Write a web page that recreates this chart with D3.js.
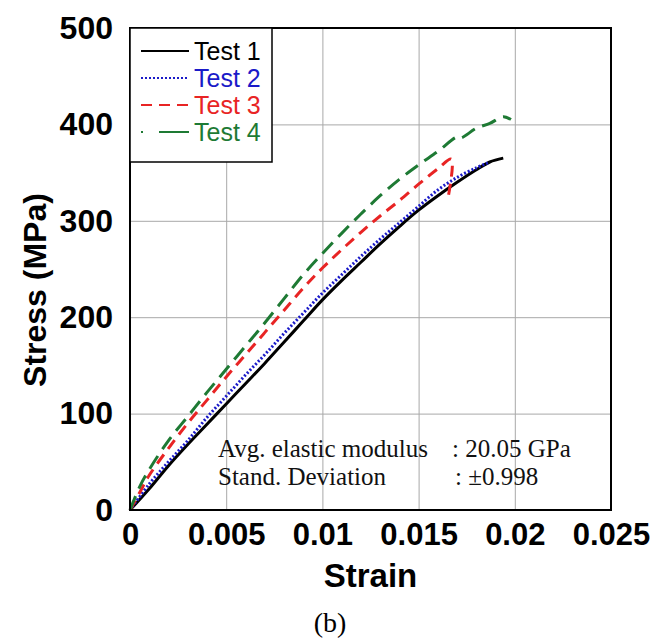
<!DOCTYPE html>
<html>
<head>
<meta charset="utf-8">
<script src="https://cdn.jsdelivr.net/npm/d3@7"></script>
<style>
	body { margin: 0; background: #fff; }
</style>
</head>
<body>
<div id="chart-area"></div>
<script>
//DATA
var xTicks = [0, 0.005, 0.01, 0.015, 0.02, 0.025];
var xTickLabels = ["0", "0.005", "0.01", "0.015", "0.02", "0.025"];
var yTicks = [0, 100, 200, 300, 400, 500];

var test1Strain = [0, 0.001, 0.002, 0.003, 0.004, 0.005, 0.006, 0.007, 0.008, 0.009, 0.010, 0.011, 0.012, 0.013, 0.014, 0.015, 0.016, 0.017, 0.018, 0.0187, 0.0194];
var test1Stress = [0, 22, 46, 68, 89, 110, 131, 152, 174, 196, 218, 238, 257, 276, 294, 311, 326, 340, 353, 361, 365];

var test2Strain = [0, 0.001, 0.002, 0.003, 0.004, 0.005, 0.006, 0.007, 0.008, 0.009, 0.010, 0.011, 0.012, 0.013, 0.014, 0.015, 0.016, 0.017, 0.018, 0.0186];
var test2Stress = [0, 27, 50, 72, 96, 118, 140, 161, 183, 204, 225, 244, 263, 281, 298, 315, 332, 345, 355, 360];

var test3Strain = [0, 0.0005, 0.001, 0.002, 0.003, 0.004, 0.005, 0.006, 0.007, 0.008, 0.009, 0.010, 0.011, 0.012, 0.013, 0.014, 0.015, 0.016, 0.0167, 0.01655];
var test3Stress = [0, 18, 36, 64, 90, 114, 138, 161, 184, 207, 230, 251, 270, 288, 305, 321, 338, 354, 364, 326];

var test4Strain = [0, 0.0005, 0.001, 0.002, 0.003, 0.004, 0.005, 0.006, 0.007, 0.008, 0.009, 0.010, 0.011, 0.012, 0.013, 0.014, 0.015, 0.016, 0.017, 0.0172, 0.018, 0.0187, 0.0194, 0.0198];
var test4Stress = [0, 24, 42, 72, 97, 122, 146, 170, 194, 219, 244, 266, 287, 307, 326, 343, 358, 372, 387, 386, 396, 401, 408, 405];

var seriesNames = ["Test 1", "Test 2", "Test 3", "Test 4"];
var seriesColors = ["#000000", "#1a1ac8", "#e82424", "#1e7a34"];
var seriesDash = ["none", "2,2", "11,7", "15,8"];
var legendDash = ["none", "2,2", "11,7", "2,16,30"];

var series = [
	{ strain: test1Strain, stress: test1Stress },
	{ strain: test2Strain, stress: test2Stress },
	{ strain: test3Strain, stress: test3Stress },
	{ strain: test4Strain, stress: test4Stress }
].map(function (s, i) {
	return {
		name: seriesNames[i],
		color: seriesColors[i],
		dash: seriesDash[i],
		legendDash: legendDash[i],
		points: s.strain.map(function (e, j) { return [e, s.stress[j]]; })
	};
});

//INITIAL SETUP
var margin = { top: 28, right: 43, bottom: 133, left: 130 };
var width = 654 - margin.left - margin.right;
var height = 643 - margin.top - margin.bottom;

var svg = d3.select('#chart-area')
	.append('svg')
	.attr('width', 654)
	.attr('height', 643);

var graph = svg.append('g')
	.attr('transform', 'translate(' + margin.left + ',' + margin.top + ')');

//SCALES
var x = d3.scaleLinear()
	.domain([0, 0.025])
	.range([0, width]);

var y = d3.scaleLinear()
	.domain([0, 500])
	.range([height, 0]);

//GRID
graph.append('g')
	.attr('class', 'x-grid')
	.attr('transform', 'translate(0,' + height + ')')
	.call(d3.axisBottom(x).tickValues(xTicks).tickSize(-height).tickFormat(''))
	.call(function (g) {
		g.select('.domain').remove();
		g.selectAll('line').attr('stroke', '#a8a8a8').attr('stroke-width', 1);
	});

graph.append('g')
	.attr('class', 'y-grid')
	.call(d3.axisLeft(y).tickValues(yTicks).tickSize(-width).tickFormat(''))
	.call(function (g) {
		g.select('.domain').remove();
		g.selectAll('line').attr('stroke', '#a8a8a8').attr('stroke-width', 1);
	});

//AXES
var xAxisGroup = graph.append('g')
	.attr('class', 'x-axis')
	.attr('transform', 'translate(0,' + height + ')')
	.call(d3.axisBottom(x)
		.tickValues(xTicks)
		.tickSize(0)
		.tickPadding(13)
		.tickFormat(function (d, i) { return xTickLabels[i]; }));
xAxisGroup.select('.domain').remove();
xAxisGroup.selectAll('text')
	.attr('font-family', 'Liberation Sans, Arial, sans-serif')
	.attr('font-weight', 'bold')
	.attr('font-size', '31px')
	.attr('fill', '#000');

var yAxisGroup = graph.append('g')
	.attr('class', 'y-axis')
	.call(d3.axisLeft(y)
		.tickValues(yTicks)
		.tickSize(0)
		.tickPadding(17));
yAxisGroup.select('.domain').remove();
yAxisGroup.selectAll('text')
	.attr('font-family', 'Liberation Sans, Arial, sans-serif')
	.attr('font-weight', 'bold')
	.attr('font-size', '32px')
	.attr('fill', '#000');

//CURVES
var line = d3.line()
	.x(function (d) { return x(d[0]); })
	.y(function (d) { return y(d[1]); })
	.curve(d3.curveCatmullRom.alpha(0.5));

graph.selectAll('.curve')
	.data(series)
	.enter()
	.append('path')
	.attr('class', 'curve')
	.attr('fill', 'none')
	.attr('stroke', function (d) { return d.color; })
	.attr('stroke-width', 3)
	.attr('stroke-dasharray', function (d) { return d.dash; })
	.attr('d', function (d) { return line(d.points); });

//FRAME
graph.append('rect')
	.attr('x', 0)
	.attr('y', 0)
	.attr('width', width)
	.attr('height', height)
	.attr('fill', 'none')
	.attr('stroke', '#000')
	.attr('stroke-width', 2);

//LEGEND
var legend = graph.append('g').attr('class', 'legend');
legend.append('rect')
	.attr('x', 0)
	.attr('y', 0)
	.attr('width', 142)
	.attr('height', 134)
	.attr('fill', '#fff')
	.attr('stroke', '#000')
	.attr('stroke-width', 1.5);

var items = legend.selectAll('.item')
	.data(series)
	.enter()
	.append('g')
	.attr('class', 'item')
	.attr('transform', function (d, i) { return 'translate(0,' + (23 + i * 27) + ')'; });

items.append('line')
	.attr('x1', 11)
	.attr('x2', 59)
	.attr('y1', 0)
	.attr('y2', 0)
	.attr('stroke', function (d) { return d.color; })
	.attr('stroke-width', 2)
	.attr('stroke-dasharray', function (d) { return d.legendDash; });

items.append('text')
	.attr('x', 64)
	.attr('y', 9)
	.attr('font-family', 'Liberation Sans, Arial, sans-serif')
	.attr('font-size', '25px')
	.attr('fill', function (d) { return d.color; })
	.text(function (d) { return d.name; });

//ANNOTATION
var note = graph.append('g')
	.attr('font-family', 'Liberation Serif, Times New Roman, serif')
	.attr('font-size', '25px')
	.attr('fill', '#111');
note.append('text').attr('x', 88).attr('y', 429).text('Avg. elastic modulus');
note.append('text').attr('x', 322).attr('y', 429).text(': 20.05 GPa');
note.append('text').attr('x', 88).attr('y', 457).text('Stand. Deviation');
note.append('text').attr('x', 325).attr('y', 457).text(':  \u00b10.998');

//LABELS
svg.append('text')
	.attr('x', margin.left + width / 2)
	.attr('y', 587)
	.attr('font-family', 'Liberation Sans, Arial, sans-serif')
	.attr('font-weight', 'bold')
	.attr('font-size', '33px')
	.attr('text-anchor', 'middle')
	.text('Strain');

svg.append('text')
	.attr('transform', 'rotate(-90)')
	.attr('x', -290)
	.attr('y', 46)
	.attr('font-family', 'Liberation Sans, Arial, sans-serif')
	.attr('font-weight', 'bold')
	.attr('font-size', '32px')
	.attr('text-anchor', 'middle')
	.text('Stress (MPa)');

svg.append('text')
	.attr('x', 330)
	.attr('y', 632)
	.attr('font-family', 'Liberation Serif, Times New Roman, serif')
	.attr('font-size', '28px')
	.attr('text-anchor', 'middle')
	.text('(b)');
</script>
</body>
</html>
